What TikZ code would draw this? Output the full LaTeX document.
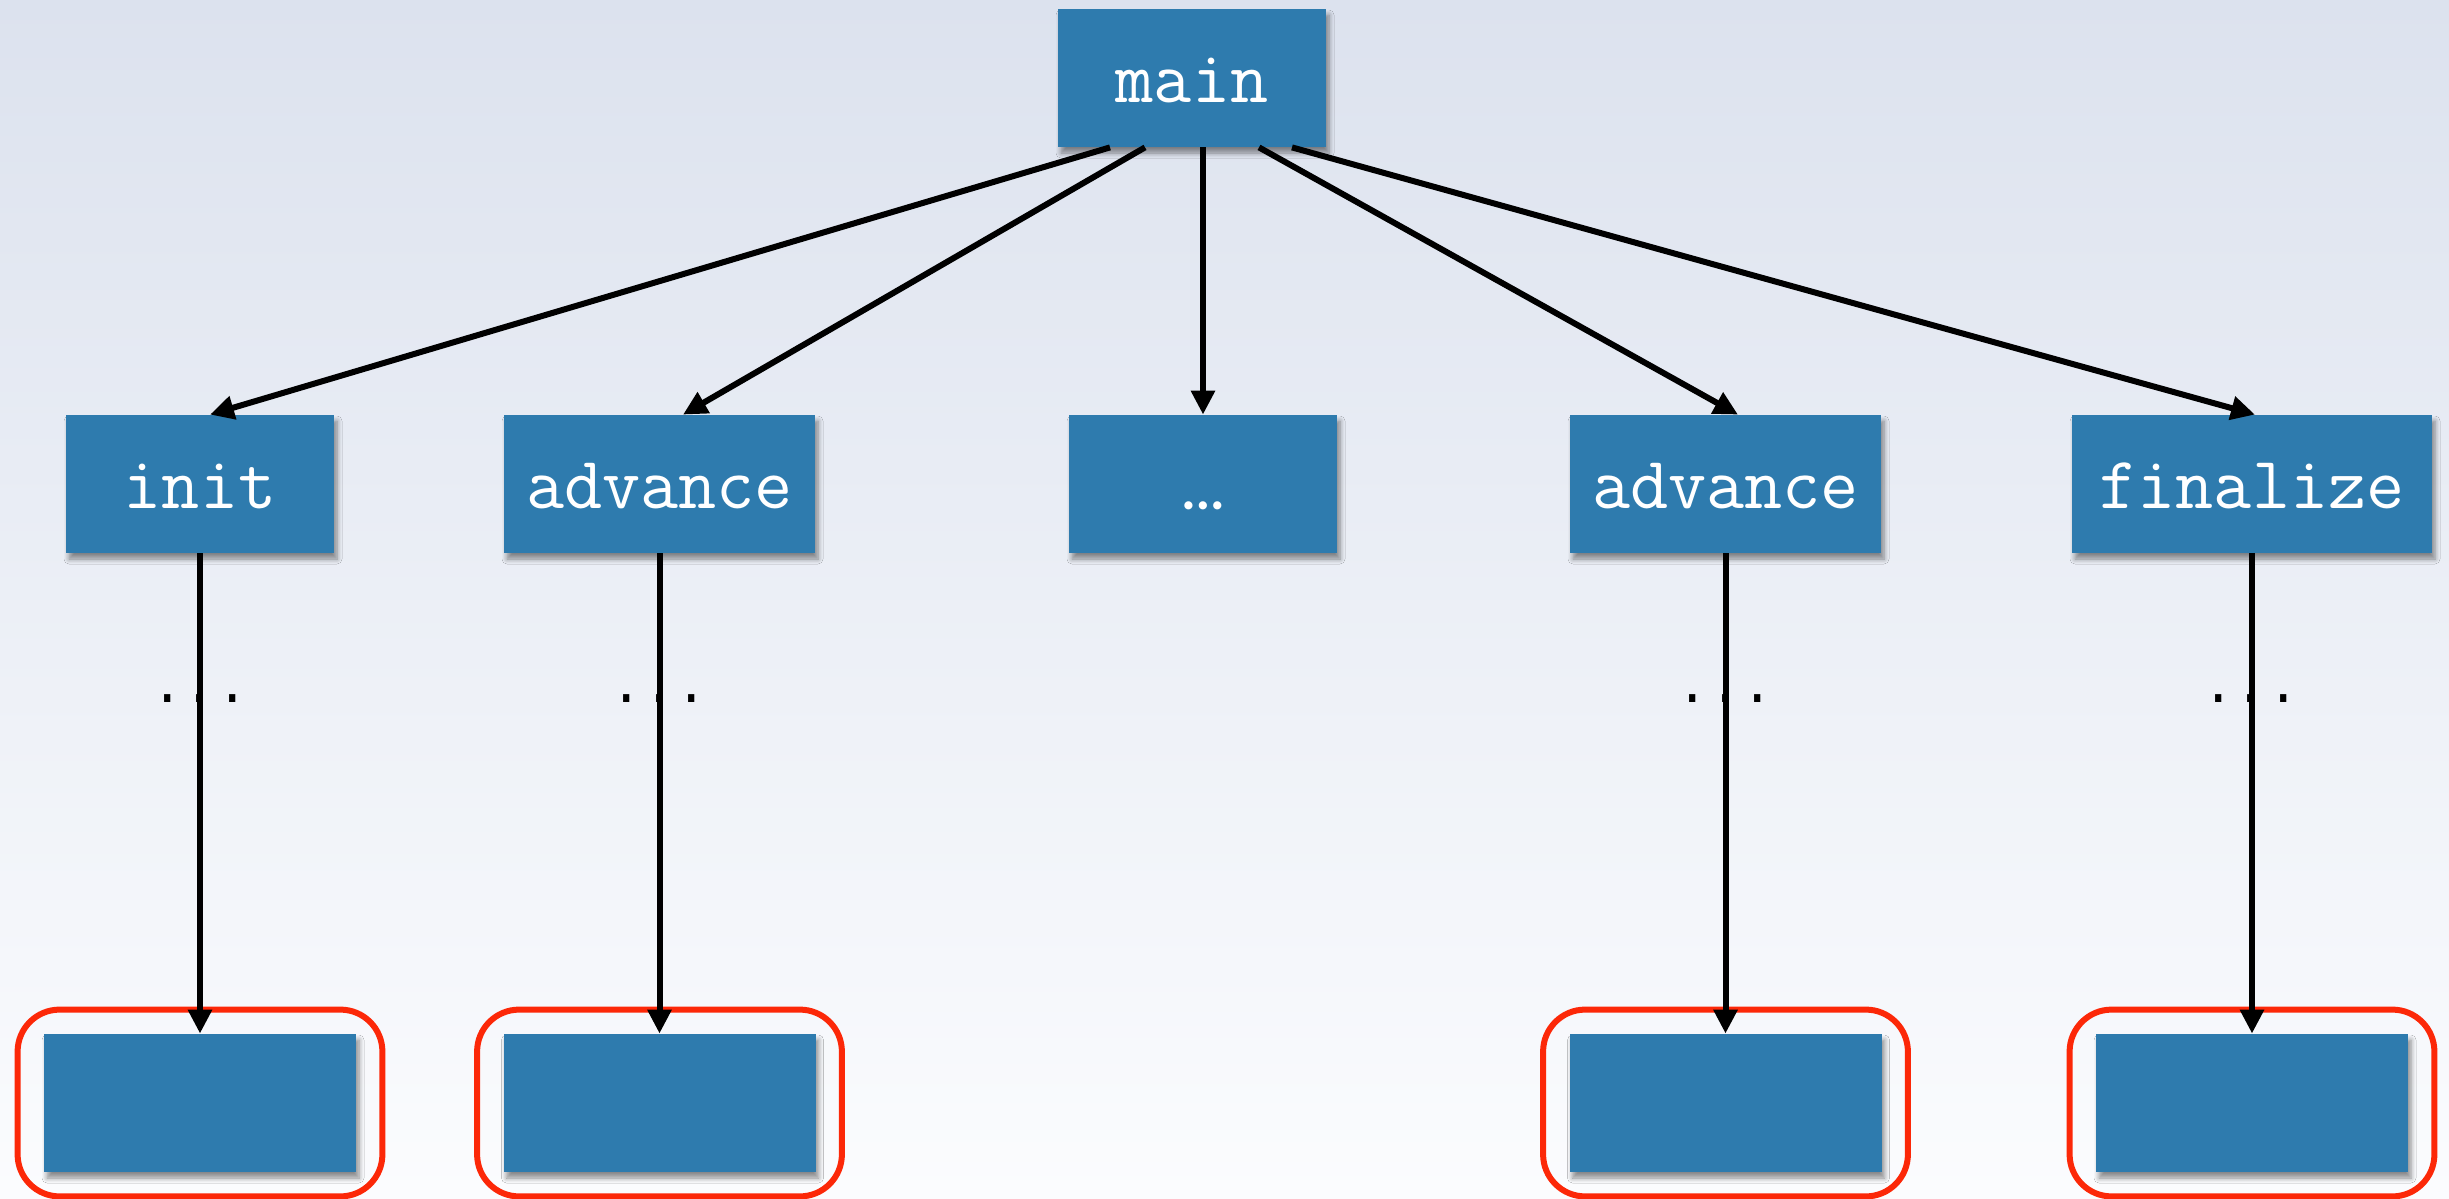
\documentclass[tikz,border=0pt]{standalone}
\usepackage{fontspec}
\newfontfamily\roundfont{Lato}
\newfontfamily\dotfont{Liberation Mono}
\usetikzlibrary{arrows.meta,shadows.blur,fit}

\definecolor{boxblue}{RGB}{46,123,174}
\definecolor{ringred}{RGB}{252,40,8}
\definecolor{bgtop}{RGB}{220,226,238}
\definecolor{bgbottom}{RGB}{251,252,254}

\begin{document}
\begin{tikzpicture}[x=0.5pt,y=-0.5pt,
  callbox/.style={rectangle, fill=boxblue, text=white, inner sep=0pt,
    minimum height=69pt, text height=24pt, text depth=0pt,
    font=\ttfamily\fontsize{37}{40}\selectfont,
    blur shadow={shadow xshift=1.5pt, shadow yshift=-3pt,
      shadow blur steps=6, shadow blur radius=2.5pt, shadow opacity=45}},
  call/.style={-{Triangle[length=12pt,width=11.5pt]}, line width=3pt, black},
  ring/.style={draw=ringred, line width=3pt, rounded corners=21pt,
    inner xsep=13pt, inner ysep=12pt},
  elide/.style={font=\dotfont\fontsize{27}{30}\selectfont, text=black,
    inner sep=0pt, anchor=base}
]
% background
\shade[top color=bgtop, bottom color=bgbottom] (0,0) rectangle (2449,1199);
\useasboundingbox (0,0) rectangle (2449,1199);

% call tree
\node[callbox, minimum width=134pt] (main) at (1192,78) {main};

\node[callbox, minimum width=134pt]   (init)  at (200,484)    {init};
\node[callbox, minimum width=155.5pt] (adv1)  at (659.5,484)  {advance};
\node[callbox, minimum width=134pt, text height=25.5pt,
      font=\roundfont\bfseries\fontsize{27}{30}\selectfont] (more) at (1203,484) {…};
\node[callbox, minimum width=155.5pt] (adv2)  at (1725.5,484) {advance};
\node[callbox, minimum width=180pt]   (final) at (2252,484)   {finalize};

% leaves
\node[callbox, minimum width=156pt] (leaf1) at (200,1103)    {};
\node[callbox, minimum width=156pt] (leaf2) at (659.5,1103)  {};
\node[callbox, minimum width=156pt] (leaf3) at (1725.5,1103) {};
\node[callbox, minimum width=156pt] (leaf4) at (2252,1103)   {};

% highlighted leaves
\foreach \l in {leaf1,leaf2,leaf3,leaf4}
  \node[ring, fit=(\l)] (ring-\l) {};

% calls from main
\draw[call] ([xshift=-41pt]main.south)   -- ([xshift=5pt]init.north);
\draw[call] ([xshift=-23.5pt]main.south) -- ([xshift=11.75pt]adv1.north);
\draw[call] ([xshift=5.5pt]main.south)   -- (more.north);
\draw[call] ([xshift=33.5pt]main.south)  -- ([xshift=6.25pt]adv2.north);
\draw[call] ([xshift=50pt]main.south)    -- ([xshift=1.5pt]final.north);

% deep call chains
\draw[call] (init.south)  -- (leaf1.north);
\draw[call] (adv1.south)  -- (leaf2.north);
\draw[call] (adv2.south)  -- (leaf3.north);
\draw[call] (final.south) -- (leaf4.north);

% elided levels
\node[elide] (gap1) at (200,702)    {...};
\node[elide] (gap2) at (659.5,702)  {...};
\node[elide] (gap3) at (1725.5,702) {...};
\node[elide] (gap4) at (2251,702)   {...};
\end{tikzpicture}
\end{document}
